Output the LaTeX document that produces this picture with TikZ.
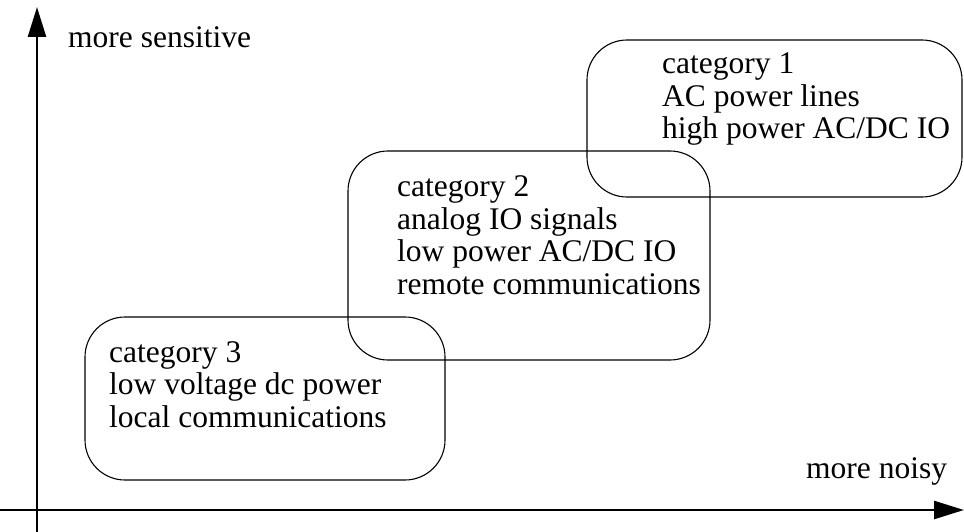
\documentclass[tikz,border=0pt]{standalone}
\usepackage{fontspec}
\setmainfont{Liberation Serif}
\usepackage{tikz}
\usetikzlibrary{arrows.meta}

\tikzset{
  catbox/.style={draw,line width=1.1pt,rounded corners=40pt},
  axis/.style={line width=2.6pt,-{Triangle[length=30pt,width=18pt]}},
  lbl/.style={inner sep=0pt,anchor=base west,align=left,
              font=\fontsize{31.5}{32.5}\selectfont}
}

\begin{document}
\begin{tikzpicture}[x=1pt,y=-1pt]
  \useasboundingbox (0,0) rectangle (964,532);
  % axes
  \coordinate (ybot) at (37,532);
  \coordinate (ytop) at (37,7);
  \coordinate (xleft) at (0,510);
  \coordinate (xright) at (964,510);
  \draw[axis] (ybot) -- (ytop);
  \draw[axis] (xleft) -- (xright);
  \node[lbl] (sens) at (68,48) {more sensitive};
  \node[lbl] (noisy) at (806,478) {more noisy};
  % categories (anchored at the baseline of the last line)
  \draw[catbox] (587,40) rectangle (962,197);
  \draw[catbox] (348,151) rectangle (710,360);
  \draw[catbox] (85,317) rectangle (445,480);
  \node[lbl] (cat1) at (662,139) {category 1\\AC power lines\\high power AC/DC IO};
  \node[lbl] (cat2) at (397,294) {category 2\\analog IO signals\\low power AC/DC IO\\remote communications};
  \node[lbl] (cat3) at (109,427) {category 3\\low voltage dc power\\local communications};
\end{tikzpicture}
\end{document}
